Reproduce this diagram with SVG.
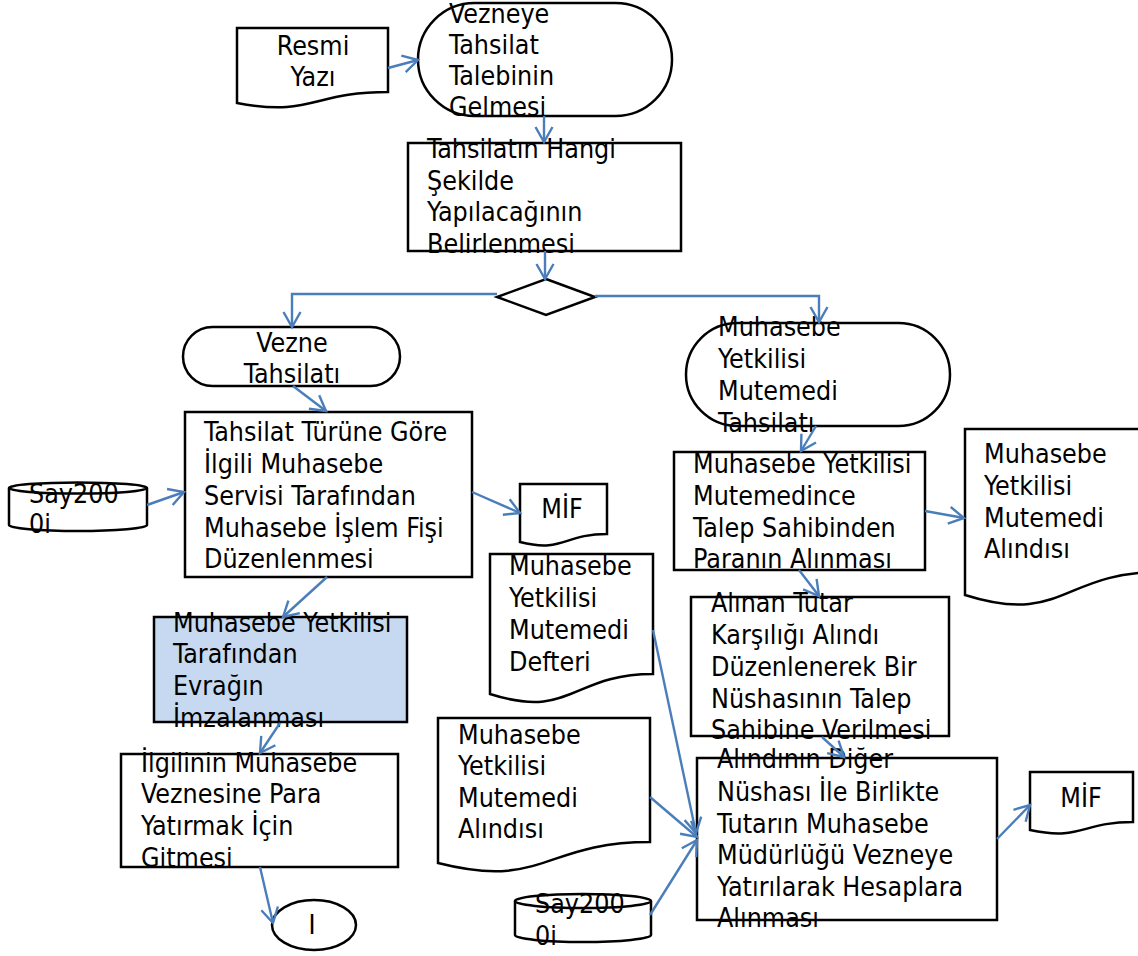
<svg xmlns="http://www.w3.org/2000/svg" width="1138" height="956" viewBox="0 0 1138 956">
<style>
.s{fill:#fff;stroke:#000;stroke-width:2.5}
.b{fill:#c6d9f1;stroke:#000;stroke-width:2.5}
text{font-family:"DejaVu Sans Condensed","DejaVu Sans",sans-serif;font-size:26.6px;fill:#000}
.c{text-anchor:middle}
.k line,.k polyline{fill:none;stroke:#4a7ebb;stroke-width:2.4;marker-end:url(#a)}
</style>
<defs>
<marker id="a" markerUnits="userSpaceOnUse" markerWidth="20" markerHeight="20" refX="16" refY="10" orient="auto">
<path d="M1,1.5 L16,10 L1,18.5" fill="none" stroke="#4a7ebb" stroke-width="2.4"/>
</marker>
</defs>
<rect width="1138" height="956" fill="#fff"/>

<g id="resmi">
<path class="s" d="M237,28 H388 V92 C312.5,92 312.5,117 237,103 Z"/>
<text class="c" x="313" y="55">Resmi</text>
<text class="c" x="313" y="86">Yazı</text>
</g>

<g id="vezneye">
<rect class="s" x="418" y="3" width="254" height="113" rx="56.5"/>
<text x="449" y="23">Vezneye</text>
<text x="449" y="54">Tahsilat</text>
<text x="449" y="85">Talebinin</text>
<text x="449" y="116">Gelmesi</text>
</g>

<g id="hangi">
<rect class="s" x="408" y="143" width="273" height="108"/>
<text x="427" y="158">Tahsilatın Hangi</text>
<text x="427" y="190">Şekilde</text>
<text x="427" y="221">Yapılacağının</text>
<text x="427" y="253">Belirlenmesi</text>
</g>

<g id="karar">
<path class="s" d="M546,279 L595,297 L546,315 L497,297 Z"/>
</g>

<g id="vezne">
<rect class="s" x="183" y="327" width="217" height="59" rx="29.5"/>
<text class="c" x="292" y="352">Vezne</text>
<text class="c" x="292" y="383">Tahsilatı</text>
</g>

<g id="muhtahsilat">
<rect class="s" x="686" y="323" width="264" height="103" rx="51.5"/>
<text x="718" y="336">Muhasebe</text>
<text x="718" y="368">Yetkilisi</text>
<text x="718" y="400">Mutemedi</text>
<text x="718" y="432">Tahsilatı</text>
</g>

<g id="tur">
<rect class="s" x="185" y="412" width="287" height="165"/>
<text x="204" y="441">Tahsilat Türüne Göre</text>
<text x="204" y="473">İlgili Muhasebe</text>
<text x="204" y="505">Servisi Tarafından</text>
<text x="204" y="537">Muhasebe İşlem Fişi</text>
<text x="204" y="568">Düzenlenmesi</text>
</g>

<g id="say1">
<path class="s" d="M9,488 V525 A69,6 0 0 0 147,525 V488"/>
<ellipse class="s" cx="78" cy="488" rx="69" ry="5.5"/>
<text x="29" y="503">Say200</text>
<text x="29" y="533">0i</text>
</g>

<g id="mif1">
<path class="s" d="M520,484 H607 V534 C563.5,534 563.5,553 520,542 Z"/>
<text class="c" x="562" y="518">MİF</text>
</g>

<g id="mutemedince">
<rect class="s" x="674" y="452" width="251" height="118"/>
<text x="693" y="473">Muhasebe Yetkilisi</text>
<text x="693" y="505">Mutemedince</text>
<text x="693" y="537">Talep Sahibinden</text>
<text x="693" y="568">Paranın Alınması</text>
</g>

<g id="alindisi1">
<path class="s" d="M965,429 H1160 V572 C1062.5,572 1062.5,626 965,595 Z"/>
<text x="984" y="463">Muhasebe</text>
<text x="984" y="495">Yetkilisi</text>
<text x="984" y="527">Mutemedi</text>
<text x="984" y="558">Alındısı</text>
</g>

<g id="defter">
<path class="s" d="M490,554 H653 V674 C571.5,674 571.5,720 490,694 Z"/>
<text x="509" y="575">Muhasebe</text>
<text x="509" y="607">Yetkilisi</text>
<text x="509" y="639">Mutemedi</text>
<text x="509" y="671">Defteri</text>
</g>

<g id="imza">
<rect class="b" x="154" y="617" width="253" height="105"/>
<text x="173" y="632">Muhasebe Yetkilisi</text>
<text x="173" y="663">Tarafından</text>
<text x="173" y="695">Evrağın</text>
<text x="173" y="727">İmzalanması</text>
</g>

<g id="alinan">
<rect class="s" x="691" y="597" width="258" height="139"/>
<text x="711" y="612">Alınan Tutar</text>
<text x="711" y="644">Karşılığı Alındı</text>
<text x="711" y="676">Düzenlenerek Bir</text>
<text x="711" y="708">Nüshasının Talep</text>
<text x="711" y="739">Sahibine Verilmesi</text>
</g>

<g id="alindisi2">
<path class="s" d="M438,718 H650 V842 C544,842 544,890 438,863 Z"/>
<text x="458" y="744">Muhasebe</text>
<text x="458" y="775">Yetkilisi</text>
<text x="458" y="807">Mutemedi</text>
<text x="458" y="838">Alındısı</text>
</g>

<g id="ilgili">
<rect class="s" x="121" y="754" width="277" height="113"/>
<text x="141" y="772">İlgilinin Muhasebe</text>
<text x="141" y="803">Veznesine Para</text>
<text x="141" y="835">Yatırmak İçin</text>
<text x="141" y="867">Gitmesi</text>
</g>

<g id="baglanti">
<ellipse class="s" cx="314" cy="925" rx="42" ry="25"/>
<text class="c" x="312" y="934">I</text>
</g>

<g id="yatirma">
<rect class="s" x="697" y="758" width="300" height="162"/>
<text x="717" y="768">Alındının Diğer</text>
<text x="717" y="801">Nüshası İle Birlikte</text>
<text x="717" y="833">Tutarın Muhasebe</text>
<text x="717" y="864">Müdürlüğü Vezneye</text>
<text x="717" y="896">Yatırılarak Hesaplara</text>
<text x="717" y="927">Alınması</text>
</g>

<g id="say2">
<path class="s" d="M515,901 V935 A68,7 0 0 0 651,935 V901"/>
<ellipse class="s" cx="583" cy="901" rx="68" ry="7"/>
<text x="535" y="913">Say200</text>
<text x="535" y="945">0i</text>
</g>

<g id="mif2">
<path class="s" d="M1030,772 H1133 V822 C1081.5,822 1081.5,841 1030,830 Z"/>
<text class="c" x="1081" y="807">MİF</text>
</g>

<g id="connectors" class="k">
<line x1="388" y1="68" x2="418" y2="60"/>
<line x1="544" y1="116" x2="544" y2="142"/>
<line x1="545" y1="251" x2="545" y2="279"/>
<polyline points="497,294 292,294 292,327"/>
<polyline points="595,296 819,296 819,322"/>
<line x1="293" y1="386" x2="326" y2="411"/>
<line x1="147" y1="505" x2="184" y2="492"/>
<line x1="472" y1="492" x2="520" y2="513"/>
<line x1="327" y1="577" x2="283" y2="617"/>
<line x1="280" y1="723" x2="260" y2="753"/>
<line x1="260" y1="867" x2="273" y2="923"/>
<line x1="816" y1="426" x2="801" y2="451"/>
<line x1="925" y1="511" x2="964" y2="518"/>
<line x1="799" y1="570" x2="819" y2="596"/>
<line x1="822" y1="737" x2="844" y2="757"/>
<line x1="653" y1="630" x2="696" y2="833"/>
<line x1="650" y1="797" x2="697" y2="837"/>
<line x1="650" y1="915" x2="697" y2="840"/>
<line x1="997" y1="839" x2="1030" y2="805"/>
</g>
</svg>
